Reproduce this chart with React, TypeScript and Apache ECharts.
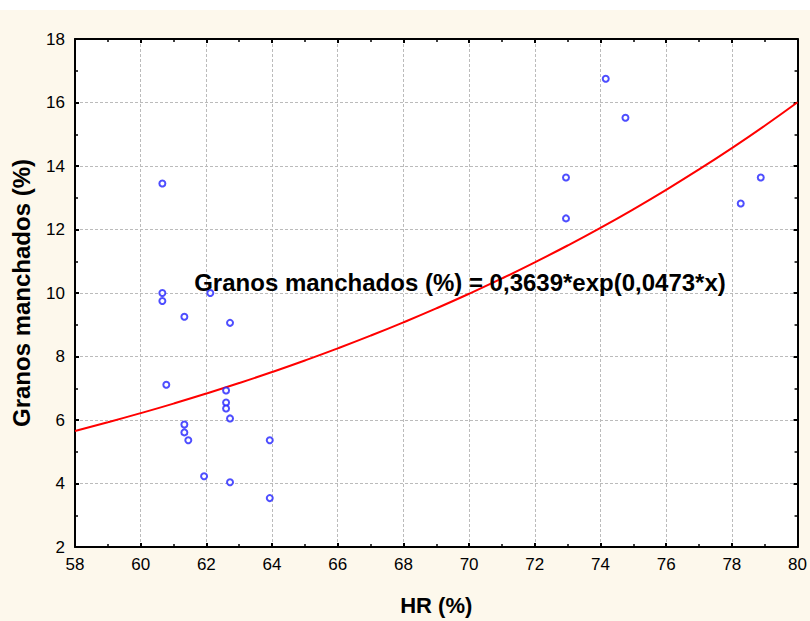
import React, { useEffect, useRef } from "react";
import * as echarts from "echarts";

const hrValues = [60.66, 60.66, 60.66, 62.12, 61.33, 62.72, 60.78, 62.6, 62.6, 62.6, 62.72, 61.33, 61.33, 61.45, 63.93, 61.93, 62.72, 63.93, 74.16, 74.76, 72.95, 72.95, 78.27, 78.88];
const granosValues = [13.45, 10.0, 9.75, 10.0, 9.25, 9.06, 7.11, 6.93, 6.55, 6.36, 6.05, 5.86, 5.61, 5.36, 5.36, 4.23, 4.04, 3.54, 16.75, 15.52, 13.64, 12.35, 12.82, 13.64];
const fitA = 0.3639;
const fitB = 0.0473;
const fitXs = [58, 59, 60, 61, 62, 63, 64, 65, 66, 67, 68, 69, 70, 71, 72, 73, 74, 75, 76, 77, 78, 79, 80];
const equationText = "Granos manchados (%) = 0,3639*exp(0,0473*x)";
const xTitle = "HR (%)";
const yTitle = "Granos manchados (%)";

export default function App() {
  const ref = useRef<HTMLDivElement>(null);
  useEffect(() => {
    if (!ref.current) return;
    const chart = echarts.init(ref.current, undefined, { renderer: "svg" });
    const pts = hrValues.map((x, i) => [x, granosValues[i]]);
    const fit = fitXs.map((x) => [x, fitA * Math.exp(fitB * x)]);
    const font = "Liberation Sans, Arial, sans-serif";
    const axisCommon = {
      type: "value" as const,
      interval: 2,
      axisLine: { show: true, onZero: false, lineStyle: { color: "#000", width: 2 } },
      axisTick: { show: true, inside: true, length: 4, lineStyle: { color: "#000", width: 2 } },
      minorTick: { show: true, splitNumber: 2, length: 3, lineStyle: { color: "#000", width: 1.5 } },
    };
    chart.setOption({
      animation: false,
      backgroundColor: "#FDF8EC",
      grid: { left: 75, right: 8, top: 39, bottom: 72, backgroundColor: "#fff", show: true, borderWidth: 0 },
      graphic: [
        { type: "rect", left: 0, top: 0, shape: { width: 810, height: 10 }, style: { fill: "#fff" }, z: -10 },
        {
          type: "text",
          x: 460,
          y: 282,
          style: { text: equationText, font: `bold 24px ${font}`, fill: "#000", align: "center", verticalAlign: "middle" },
          z: 100,
        },
      ],
      xAxis: [
        {
          ...axisCommon,
          min: 58,
          max: 80,
          position: "bottom",
          name: xTitle,
          nameLocation: "middle",
          nameGap: 47,
          nameTextStyle: { color: "#000", fontSize: 22, fontWeight: "bold", fontFamily: font },
          axisLabel: { color: "#000", fontSize: 17, fontFamily: font, margin: 9 },
          splitLine: { show: true, lineStyle: { color: "#bbb", type: [3, 2], width: 1 } },
        },
        {
          ...axisCommon,
          min: 58,
          max: 80,
          position: "top",
          axisLabel: { show: false },
          splitLine: { show: false },
        },
      ],
      yAxis: [
        {
          ...axisCommon,
          min: 2,
          max: 18,
          position: "left",
          name: yTitle,
          nameLocation: "middle",
          nameGap: 42,
          nameTextStyle: { color: "#000", fontSize: 24, fontWeight: "bold", fontFamily: font },
          axisLabel: { color: "#000", fontSize: 17, fontFamily: font, margin: 10 },
          splitLine: { show: true, lineStyle: { color: "#bbb", type: [3, 2], width: 1 } },
        },
        {
          ...axisCommon,
          min: 2,
          max: 18,
          position: "right",
          axisLabel: { show: false },
          splitLine: { show: false },
        },
      ],
      series: [
        {
          type: "line",
          data: fit,
          smooth: true,
          showSymbol: false,
          lineStyle: { color: "#f00", width: 2 },
          z: 3,
        },
        {
          type: "scatter",
          data: pts,
          symbol: "emptyCircle",
          symbolSize: 6,
          itemStyle: { color: "#2222ff", borderColor: "#2222ff", borderWidth: 1.2 },
          z: 4,
        },
      ],
    });
    return () => chart.dispose();
  }, []);
  return (
    <div style={{ position: "fixed", left: 0, top: 0, width: 810, height: 621 }}>
      <div ref={ref} style={{ width: 810, height: 621 }} />
    </div>
  );
}
